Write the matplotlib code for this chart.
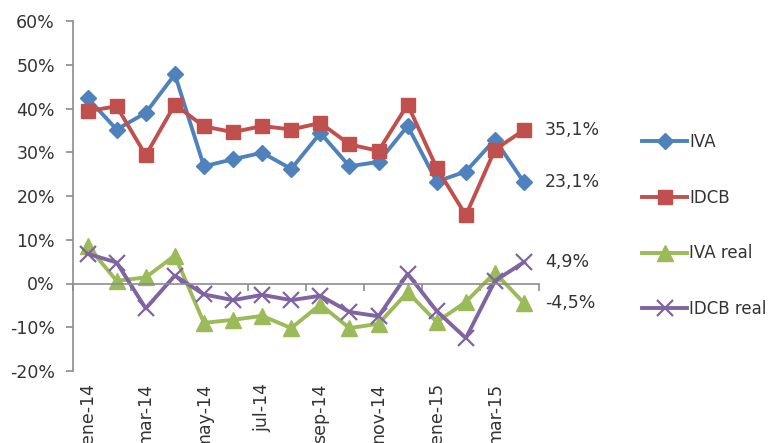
import matplotlib
matplotlib.use("Agg")
import matplotlib.pyplot as plt
import matplotlib.transforms as mtransforms

plt.rcParams['font.family'] = ['DejaVu Sans']

months = ['ene-14', 'feb-14', 'mar-14', 'abr-14', 'may-14', 'jun-14', 'jul-14', 'ago-14',
          'sep-14', 'oct-14', 'nov-14', 'dic-14', 'ene-15', 'feb-15', 'mar-15', 'abr-15']

iva = [42.4, 35.2, 39.0, 47.8, 26.8, 28.4, 29.9, 26.2, 34.4, 26.8, 27.8, 36.0, 23.3, 25.6, 32.9, 23.1]
idcb = [39.4, 40.5, 29.3, 40.9, 35.9, 34.6, 36.0, 35.2, 36.7, 31.8, 30.3, 40.9, 26.4, 15.6, 30.6, 35.1]
iva_real = [8.6, 0.6, 1.4, 6.4, -9.0, -8.3, -7.4, -10.2, -4.8, -10.2, -9.2, -2.0, -8.8, -4.2, 2.5, -4.5]
idcb_real = [6.8, 4.8, -5.7, 1.8, -2.5, -3.8, -2.6, -3.8, -2.8, -6.5, -7.5, 2.2, -6.3, -12.5, 0.6, 4.9]

end_labels = ['35,1%', '23,1%', '4,9%', '-4,5%']
end_values = [idcb[-1], iva[-1], idcb_real[-1], iva_real[-1]]

text_col = '#333333'
axis_col = '#8c8c8c'
fs = 12.5

fig = plt.figure(figsize=(7.72, 4.43), dpi=100)
ax = fig.add_axes([73 / 772, 1 - 371 / 443, (538.6 - 73) / 772, (371 - 21) / 443])

x = list(range(len(months)))
ax.plot(x, iva, color='#4F81BD', lw=2.8, marker='D', ms=8, label='IVA')
ax.plot(x, idcb, color='#C0504D', lw=2.8, marker='s', ms=10, label='IDCB')
ax.plot(x, iva_real, color='#9BBB59', lw=2.8, marker='^', ms=11, label='IVA real')
ax.plot(x, idcb_real, color='#8064A2', lw=2.8, marker='x', ms=11, mew=1.6, label='IDCB real')

ax.set_xlim(-0.5, len(months) - 0.5)
ax.set_ylim(-20, 60)
ax.set_yticks(range(-20, 61, 10))
ax.set_yticklabels([f'{v}%' for v in range(-20, 61, 10)], fontsize=fs, color=text_col)

ax.spines['top'].set_visible(False)
ax.spines['right'].set_visible(False)
ax.spines['bottom'].set_position(('data', 0))
for s in ['left', 'bottom']:
    ax.spines[s].set_color(axis_col)
    ax.spines[s].set_linewidth(1.2)

ax.set_xticks([i - 0.5 for i in range(0, len(months) + 1, 2)])
ax.set_xticklabels([])
ax.tick_params(axis='x', direction='out', length=5, color=axis_col, width=1.2)
ax.tick_params(axis='y', direction='out', length=5, color=axis_col, width=1.2, pad=8)

trans = mtransforms.blended_transform_factory(ax.transData, ax.transAxes)
for i in range(0, len(months), 2):
    ax.text(i, -0.035, months[i], transform=trans, rotation=90, ha='center', va='top',
            fontsize=fs, color=text_col)

for lab, v in zip(end_labels, end_values):
    ax.text(15.72, v, lab, ha='left', va='center', fontsize=fs, color=text_col, clip_on=False)

fig.legend(loc='center left', bbox_to_anchor=(634 / 772, 1 - 225.5 / 443), frameon=False,
           fontsize=12, labelspacing=2.27, handlelength=2.7, handletextpad=0.1,
           borderpad=0, labelcolor=text_col)

fig.savefig('out.png', dpi=100)
